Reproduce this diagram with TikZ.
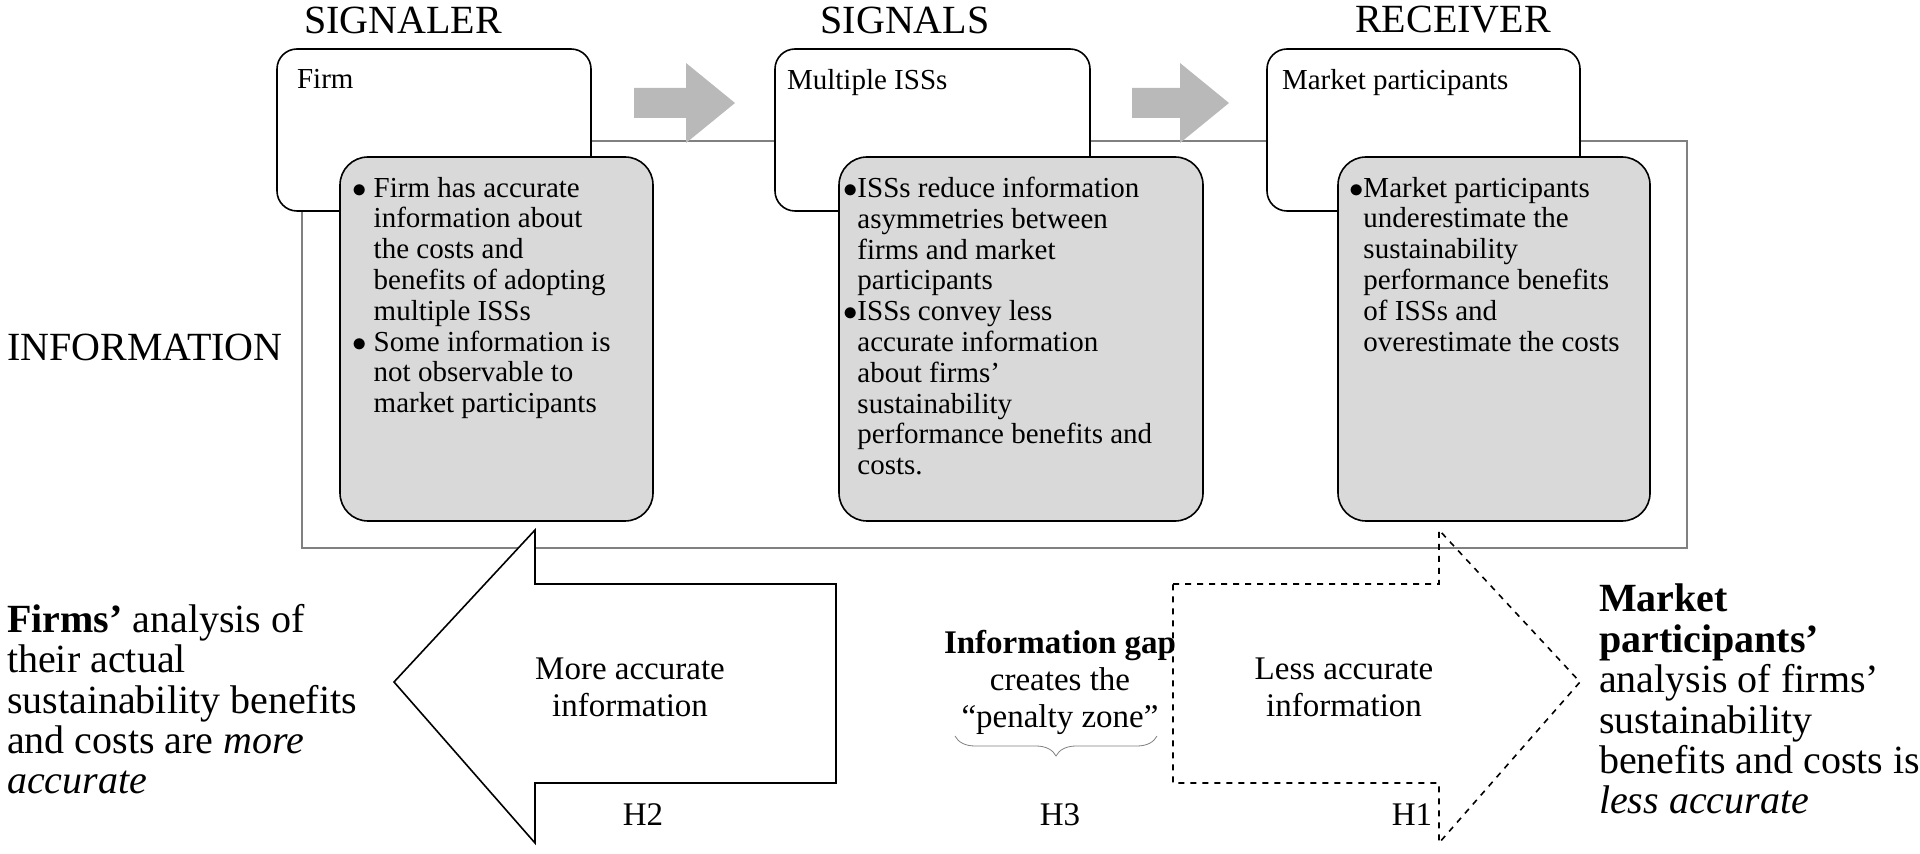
\documentclass[tikz,border=0pt]{standalone}
\usepackage{fontspec}
\setmainfont{Liberation Serif}
\usetikzlibrary{decorations.pathreplacing}
\begin{document}
\begin{tikzpicture}[x=0.5pt,y=-0.5pt,
    heading/.style={font=\fontsize{20}{22}\selectfont},
    topbox/.style={draw,thick,rounded corners=10pt,fill=white},
    infobox/.style={draw,thick,rounded corners=14pt,fill=gray!30},
    boxtext/.style={font=\fontsize{14.5}{15.4}\selectfont,align=left,anchor=north west},
    side/.style={font=\fontsize{20}{20.2}\selectfont,align=left,anchor=north west},
    mid/.style={font=\fontsize{16.5}{18.5}\selectfont,align=center}]

    \useasboundingbox (0,0) rectangle (1920,854);

    % information frame
    \draw[gray,thick] (302,141) rectangle (1687,548);

    \node[heading] (signaler) at (403,20) {SIGNALER};
    \node[heading] (signals) at (905,20) {SIGNALS};
    \node[heading] (receiver) at (1453,20) {RECEIVER};
    \node[heading,anchor=west] (information) at (0,347) {INFORMATION};

    \draw[topbox] (277,49) rectangle (591,211);
    \draw[topbox] (775,49) rectangle (1090,211);
    \draw[topbox] (1267,49) rectangle (1580,211);
    \node[boxtext] (firm) at (290,62) {Firm};
    \node[boxtext] (isss) at (780,62) {Multiple ISSs};
    \node[boxtext] (market) at (1275,62) {Market participants};

    \draw[infobox] (340,157) rectangle (653,521);
    \draw[infobox] (839,157) rectangle (1203,521);
    \draw[infobox] (1338,157) rectangle (1650,521);
    \node[boxtext] (firmtext) at (345,170) {$\bullet$ Firm has accurate\\\phantom{$\bullet$ }information about\\\phantom{$\bullet$ }the costs and\\\phantom{$\bullet$ }benefits of adopting\\\phantom{$\bullet$ }multiple ISSs\\$\bullet$ Some information is\\\phantom{$\bullet$ }not observable to\\\phantom{$\bullet$ }market participants};
    \node[boxtext] (isstext) at (836,170) {$\bullet$ISSs reduce information\\\phantom{$\bullet$}asymmetries between\\\phantom{$\bullet$}firms and market\\\phantom{$\bullet$}participants\\$\bullet$ISSs convey less\\\phantom{$\bullet$}accurate information\\\phantom{$\bullet$}about firms'\\\phantom{$\bullet$}sustainability\\\phantom{$\bullet$}performance benefits and\\\phantom{$\bullet$}costs.};
    \node[boxtext] (markettext) at (1342,170) {$\bullet$Market participants\\\phantom{$\bullet$}underestimate the\\\phantom{$\bullet$}sustainability\\\phantom{$\bullet$}performance benefits\\\phantom{$\bullet$}of ISSs and\\\phantom{$\bullet$}overestimate the costs};

    % small grey arrows
    \fill[gray!55] (634,88) -- (686,88) -- (686,63) -- (735,103) -- (686,143) -- (686,118) -- (634,118) -- cycle;
    \fill[gray!55] (1132,88) -- (1180,88) -- (1180,63) -- (1229,103) -- (1180,143) -- (1180,118) -- (1132,118) -- cycle;

    % big arrows
    \draw[thick,fill=white] (836,584) -- (535,584) -- (535,530) -- (394,682) -- (535,843) -- (535,783) -- (836,783) -- cycle;
    \draw[thick,dashed] (1173,584) -- (1439,584) -- (1439,530) -- (1580,682) -- (1439,843) -- (1439,783) -- (1173,783) -- cycle;
    \draw[gray,decorate,decoration={brace,amplitude=10pt}] (1157,736) -- (955,736);

    \node[mid] (more) at (630,687) {More accurate\\information};
    \node[mid] (less) at (1344,687) {Less accurate\\information};
    \node[mid] (gap) at (1060,682) {\textbf{Information gap}\\creates the\\``penalty zone''};
    \node[mid] (htwo) at (643,815) {H2};
    \node[mid] (hthree) at (1060,815) {H3};
    \node[mid] (hone) at (1412,815) {H1};

    \node[side] (firmsside) at (0,597) {\textbf{Firms'} analysis of\\their actual\\sustainability benefits\\and costs are \textit{more}\\\textit{accurate}};
    \node[side] (marketside) at (1592,577) {\textbf{Market}\\\textbf{participants'}\\analysis of firms'\\sustainability\\benefits and costs is\\\textit{less accurate}};
\end{tikzpicture}
\end{document}
